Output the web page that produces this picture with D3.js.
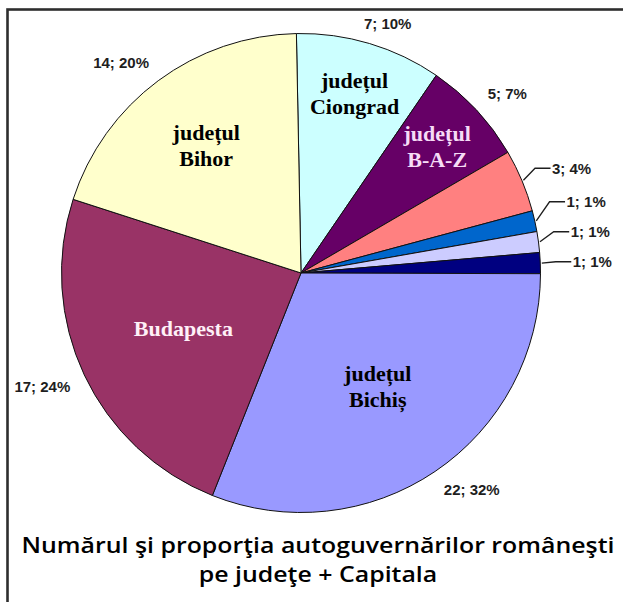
<!DOCTYPE html>
<html>
<head>
<meta charset="utf-8">
<script src="https://cdn.jsdelivr.net/npm/d3@7/dist/d3.min.js"></script>
<style>
  html, body { margin: 0; padding: 0; background: #fff; }
  svg { display: block; }
</style>
</head>
<body>
<svg id="chart" width="623" height="602"></svg>
<script>
// ---- data ----
const categories = ["județul Ciongrad", "județul B-A-Z", "", "", "", "", "județul Bichiș", "Budapesta", "județul Bihor"];
const values = [7, 5, 3, 1, 1, 1, 22, 17, 14];
const percents = ["10%", "7%", "4%", "1%", "1%", "1%", "32%", "24%", "20%"];
const innerLines = [["județul", "Ciongrad"], ["județul", "B-A-Z"], [], [], [], [], ["județul", "Bichiș"], ["Budapesta"], ["județul", "Bihor"]];
const titleLines = ["Numărul şi proporţia autoguvernărilor româneşti", "pe judeţe + Capitala"];

// ---- styles / layout ----
const colors = ["#CCFFFF", "#660066", "#FF8080", "#0066CC", "#CCCCFF", "#000080", "#9999FF", "#993366", "#FFFFCC"];
const innerText = ["#000", "#f6dcf6", null, null, null, null, "#000", "#fff0f7", "#000"];
const innerR = [187, 186, 0, 0, 0, 0, 137, 130, 159];
const leader = [false, false, true, true, true, true, false, false, false];

const W = 623, H = 602;
const cx = 301, cy = 273, R = 239.5;
const startDeg = -1.1;

const svg = d3.select("#chart");
svg.append("rect").attr("width", W).attr("height", H).attr("fill", "#fff");

// frame (right & bottom sides are outside the picture)
svg.append("rect")
  .attr("x", 7.5).attr("y", 9.5).attr("width", 700).attr("height", 700)
  .attr("fill", "none").attr("stroke", "#2e2e2e").attr("stroke-width", 2.6);

const g = svg.append("g").attr("transform", `translate(${cx},${cy})`);

const a0 = startDeg * Math.PI / 180;
const pie = d3.pie().sort(null).value(d => d).startAngle(a0).endAngle(a0 + 2 * Math.PI);
const arcs = pie(values);
const arc = d3.arc().innerRadius(0).outerRadius(R);

g.selectAll("path.slice").data(arcs).join("path")
  .attr("class", "slice")
  .attr("d", arc)
  .attr("fill", (d, i) => colors[i])
  .attr("stroke", "#111")
  .attr("stroke-width", 1)
  .attr("stroke-linejoin", "round");

const mid = d => (d.startAngle + d.endAngle) / 2;
const pt = (ang, r) => [Math.sin(ang) * r, -Math.cos(ang) * r];

// inner labels
arcs.forEach((d, i) => {
  const lines = innerLines[i];
  if (!lines.length) return;
  const [x, y] = pt(mid(d), innerR[i]);
  const lh = 26;
  const t = g.append("text")
    .attr("text-anchor", "middle")
    .attr("font-family", "'Liberation Serif', 'Times New Roman', serif")
    .attr("font-weight", "bold")
    .attr("font-size", 22)
    .attr("fill", innerText[i]);
  lines.forEach((ln, k) => {
    t.append("tspan")
      .attr("x", x)
      .attr("y", y + (k - (lines.length - 1) / 2) * lh + 7.5)
      .text(ln);
  });
});

// outer value labels
const valFont = "'Liberation Sans', Arial, sans-serif";
const sgn = v => Math.sign(v) * Math.min(1, Math.abs(v) * 2);

// leader label positions (relaxed from the bottom upward)
const leaderIdx = arcs.map((d, i) => i).filter(i => leader[i]);
const leaderPos = {};
leaderIdx.forEach(i => {
  const [x, y] = pt(mid(arcs[i]), 272);
  leaderPos[i] = { x, y };
});
const byY = leaderIdx.slice().sort((p, q) => leaderPos[q].y - leaderPos[p].y);
for (let k = 1; k < byY.length; k++) {
  const lower = leaderPos[byY[k - 1]], cur = leaderPos[byY[k]];
  cur.y = Math.min(cur.y, lower.y - 30);
}

arcs.forEach((d, i) => {
  const label = `${values[i]}; ${percents[i]}`;
  const ang = mid(d);
  const t = g.append("text")
    .attr("font-family", valFont)
    .attr("font-weight", "bold")
    .attr("font-size", 15)
    .attr("fill", "#1e1e1e")
    .text(label);
  if (leader[i]) {
    const p = leaderPos[i];
    t.attr("x", p.x).attr("y", p.y).attr("dy", "0.36em").attr("text-anchor", "start");
    const s = pt(ang, R + 1.5);
    const ex = p.x - 17;
    g.append("path")
      .attr("d", d3.line()([s, [ex, p.y], [p.x - 1.5, p.y]]))
      .attr("fill", "none")
      .attr("stroke", "#1e1e1e")
      .attr("stroke-width", 1.3);
  } else {
    const [ax, ay] = pt(ang, 255);
    const bb = t.node().getBBox();
    const w = bb.width, h = 11;
    const ccx = ax + (w / 2) * sgn(Math.sin(ang));
    const ccy = ay + (h / 2) * sgn(-Math.cos(ang));
    t.attr("x", ccx).attr("y", ccy).attr("dy", "0.36em").attr("text-anchor", "middle");
  }
});

// title (one text element, two lines)
const titleFont = "'Open Sans', 'Noto Sans', sans-serif";
const title = svg.append("text")
  .attr("text-anchor", "middle")
  .attr("font-family", titleFont)
  .attr("font-size", 21)
  .attr("font-weight", 600)
  .attr("fill", "#000");
const s1 = title.append("tspan").attr("x", 318).attr("y", 552.5).text(titleLines[0]);
const s2 = title.append("tspan").attr("x", 318).attr("y", 581.5).text(titleLines[1]);
const len1 = s1.node().getComputedTextLength();
const len2 = s2.node().getComputedTextLength();
s1.attr("textLength", 593).attr("lengthAdjust", "spacingAndGlyphs");
s2.attr("textLength", len2 * 593 / len1).attr("lengthAdjust", "spacingAndGlyphs");
</script>
</body>
</html>
